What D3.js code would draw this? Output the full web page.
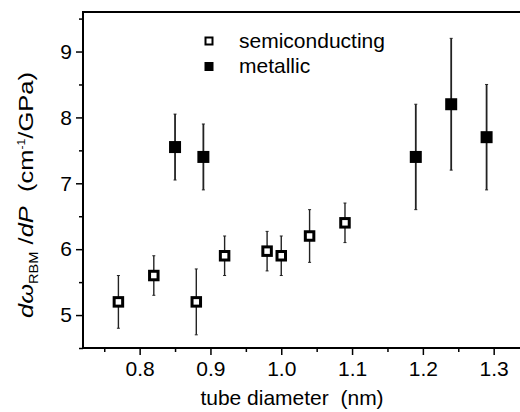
<!DOCTYPE html>
<html>
<head>
<meta charset="utf-8">
<script src="https://cdn.jsdelivr.net/npm/d3@7"></script>
<style>
  html, body { margin: 0; padding: 0; background: #fff; }
  svg { display: block; font-family: "Liberation Sans", Arial, sans-serif; }
</style>
</head>
<body>
<div id="chart"></div>
<script>
// semiconducting tubes
const semiDiameter = [0.77, 0.82, 0.88, 0.92, 0.98, 1.0, 1.04, 1.09];
const semiSlope = [5.2, 5.6, 5.2, 5.9, 5.97, 5.9, 6.2, 6.4];
const semiError = [0.4, 0.3, 0.5, 0.3, 0.3, 0.3, 0.4, 0.3];

// metallic tubes
const metDiameter = [0.85, 0.89, 1.19, 1.24, 1.29];
const metSlope = [7.55, 7.4, 7.4, 8.2, 7.7];
const metError = [0.5, 0.5, 0.8, 1.0, 0.8];

const xTicks = [0.8, 0.9, 1.0, 1.1, 1.2, 1.3];
const xMinor = [0.75, 0.85, 0.95, 1.05, 1.15, 1.25];
const yTicks = [5, 6, 7, 8, 9];
const yMinor = [4.5, 5.5, 6.5, 7.5, 8.5, 9.5];

(function() {
  const WIDTH = 520;
  const HEIGHT = 412;
  const FONT = 21;
  const left = 83, right = 522, top = 12, bottom = 348;

  const svg = d3.select("#chart").append("svg")
    .attr("width", WIDTH).attr("height", HEIGHT);

  const x = d3.scaleLinear().domain([0.72, 1.34]).range([left, right]);
  const y = d3.scaleLinear().domain([4.5, 9.6]).range([bottom, top]);

  // axes
  const styleAxis = g => {
    g.select(".domain").remove();
    g.selectAll("line").attr("stroke", "#000").attr("stroke-width", 1.5);
    g.selectAll("text").attr("fill", "#000").style("font-size", FONT + "px");
  };

  svg.append("g")
    .attr("transform", `translate(0,${bottom})`)
    .call(d3.axisBottom(x).tickValues(xMinor).tickSize(4).tickFormat(""))
    .call(styleAxis);
  svg.append("g")
    .attr("transform", `translate(0,${bottom})`)
    .call(d3.axisBottom(x).tickValues(xTicks).tickSize(7).tickPadding(6)
      .tickFormat(d3.format(".1f")))
    .call(styleAxis);

  svg.append("g")
    .attr("transform", `translate(${left},0)`)
    .call(d3.axisLeft(y).tickValues(yMinor).tickSize(4).tickFormat(""))
    .call(styleAxis);
  svg.append("g")
    .attr("transform", `translate(${left},0)`)
    .call(d3.axisLeft(y).tickValues(yTicks).tickSize(7).tickPadding(4)
      .tickFormat(d3.format("d")))
    .call(styleAxis);

  // frame
  svg.append("rect")
    .attr("x", left).attr("y", top)
    .attr("width", right - left).attr("height", bottom - top)
    .attr("fill", "none").attr("stroke", "#000").attr("stroke-width", 2);

  // error bars + markers
  function drawSeries(xs, ys, es, filled) {
    const data = xs.map((d, i) => ({ d, v: ys[i], e: es[i] }));
    const g = svg.append("g");
    const lw = filled ? 1.8 : 1.4;
    g.selectAll("line.err").data(data).enter().append("line")
      .attr("class", "err")
      .attr("x1", p => x(p.d)).attr("x2", p => x(p.d))
      .attr("y1", p => y(p.v - p.e)).attr("y2", p => y(p.v + p.e))
      .attr("stroke", "#222").attr("stroke-width", lw);
    // tiny caps
    [-1, 1].forEach(sgn => {
      g.selectAll(null).data(data).enter().append("line")
        .attr("x1", p => x(p.d) - 1.5).attr("x2", p => x(p.d) + 1.5)
        .attr("y1", p => y(p.v + sgn * p.e)).attr("y2", p => y(p.v + sgn * p.e))
        .attr("stroke", "#222").attr("stroke-width", 1);
    });
    const s = filled ? 12 : 8.5;
    g.selectAll("rect").data(data).enter().append("rect")
      .attr("x", p => x(p.d) - s / 2).attr("y", p => y(p.v) - s / 2)
      .attr("width", s).attr("height", s)
      .attr("fill", filled ? "#000" : "#fff")
      .attr("stroke", "#000").attr("stroke-width", filled ? 0 : 3);
  }
  drawSeries(semiDiameter, semiSlope, semiError, false);
  drawSeries(metDiameter, metSlope, metError, true);

  // legend
  const legend = svg.append("g");
  legend.append("rect").attr("x", 205.5).attr("y", 37.5).attr("width", 7).attr("height", 7)
    .attr("fill", "#fff").attr("stroke", "#000").attr("stroke-width", 2);
  legend.append("rect").attr("x", 204.5).attr("y", 62).attr("width", 9).attr("height", 9)
    .attr("fill", "#000");
  legend.append("text").attr("x", 239).attr("y", 48).style("font-size", FONT + "px")
    .text("semiconducting");
  legend.append("text").attr("x", 239).attr("y", 73).style("font-size", FONT + "px")
    .text("metallic");

  // x title
  svg.append("text")
    .attr("x", 292).attr("y", 405)
    .attr("text-anchor", "middle")
    .style("font-size", FONT + "px")
    .attr("xml:space", "preserve")
    .text("tube diameter  (nm)");

  // y title (stretched along its length like the original)
  const yt = svg.append("text")
    .attr("text-anchor", "middle")
    .attr("xml:space", "preserve")
    .style("font-size", FONT + "px");
  yt.append("tspan").style("font-style", "italic").text("dω");
  yt.append("tspan").attr("dy", 5).style("font-size", "12px").text("RBM");
  yt.append("tspan").attr("dy", -5).text(" /");
  yt.append("tspan").style("font-style", "italic").text("dP");
  yt.append("tspan").text("  (cm");
  yt.append("tspan").attr("dy", -8).style("font-size", "10px").text("-1");
  yt.append("tspan").attr("dy", 8).text("/GPa)");
  const natural = yt.node().getComputedTextLength();
  const sx = 246 / natural;
  yt.attr("transform", `translate(33,195) rotate(-90) scale(${sx},1)`);
})();
</script>
</body>
</html>
